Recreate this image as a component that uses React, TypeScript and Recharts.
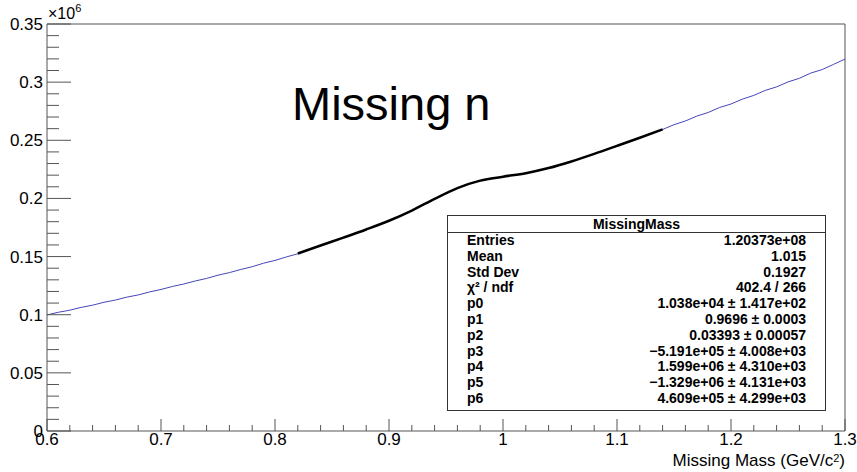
import { LineChart, Line, XAxis, YAxis, ReferenceLine } from "recharts";

// missing mass bins (GeV/c^2) and counts (x10^6)
const histMass = [
  0.6, 0.61, 0.62, 0.63, 0.64, 0.65, 0.66, 0.67, 0.68, 0.69, 0.7, 0.71, 0.72,
  0.73, 0.74, 0.75, 0.76, 0.77, 0.78, 0.79, 0.8, 0.81, 0.82, 0.83, 0.84, 0.85,
  0.86, 0.87, 0.88, 0.89, 0.9, 0.91, 0.92, 0.93, 0.94, 0.95, 0.96, 0.97, 0.98,
  0.99, 1.0, 1.01, 1.02, 1.03, 1.04, 1.05, 1.06, 1.07, 1.08, 1.09, 1.1, 1.11,
  1.12, 1.13, 1.14, 1.15, 1.16, 1.17, 1.18, 1.19, 1.2, 1.21, 1.22, 1.23, 1.24,
  1.25, 1.26, 1.27, 1.28, 1.29, 1.3,
];
const histCounts = [
  0.0998, 0.1021, 0.1039, 0.1063, 0.1082, 0.1107, 0.1126, 0.1151, 0.117,
  0.1196, 0.1217, 0.1243, 0.1264, 0.129, 0.1312, 0.134, 0.1362, 0.1389, 0.1413,
  0.1443, 0.1467, 0.1497, 0.1524, 0.1562, 0.1594, 0.163, 0.1662, 0.1699,
  0.1731, 0.1771, 0.1807, 0.1853, 0.1895, 0.1947, 0.1994, 0.2047, 0.2088,
  0.2128, 0.2151, 0.2174, 0.2185, 0.2201, 0.2215, 0.2238, 0.226, 0.2291,
  0.2317, 0.2352, 0.2382, 0.2419, 0.245, 0.2488, 0.2521, 0.256, 0.2593, 0.2634,
  0.2666, 0.2708, 0.2739, 0.2782, 0.2812, 0.2854, 0.2886, 0.2929, 0.2959,
  0.3002, 0.3033, 0.3078, 0.3108, 0.3153, 0.3198,
];

// fit curve over the fit range
const fitMass = [
  0.82, 0.84, 0.86, 0.88, 0.9, 0.92, 0.94, 0.96, 0.98, 1.0, 1.02, 1.04, 1.06,
  1.08, 1.1, 1.12, 1.14,
];
const fitValues = [
  0.1526, 0.1595, 0.1663, 0.1733, 0.1808, 0.1896, 0.1996, 0.2089, 0.2153,
  0.2187, 0.2217, 0.2261, 0.2318, 0.2383, 0.2452, 0.2522, 0.2594,
];

const xLabels = [0.6, 0.7, 0.8, 0.9, 1, 1.1, 1.2, 1.3];
const yLabels = [0, 0.05, 0.1, 0.15, 0.2, 0.25, 0.3, 0.35];

const statsRows = [
  ["Entries", "1.20373e+08"],
  ["Mean", "1.015"],
  ["Std Dev", "0.1927"],
  ["χ² / ndf", "402.4 / 266"],
  ["p0", "1.038e+04 ± 1.417e+02"],
  ["p1", "0.9696 ± 0.0003"],
  ["p2", "0.03393 ± 0.00057"],
  ["p3", "−5.191e+05 ± 4.008e+03"],
  ["p4", "1.599e+06 ± 4.310e+03"],
  ["p5", "−1.329e+06 ± 4.131e+03"],
  ["p6", "4.609e+05 ± 4.299e+03"],
];

const histData = histMass.map((m, i) => ({ x: m, y: histCounts[i] }));
const fitData = fitMass.map((m, i) => ({ x: m, y: fitValues[i] }));

// minor tick positions
const xTicks: number[] = [];
for (let i = 0; i <= 35; i++) xTicks.push(Math.round((0.6 + i * 0.02) * 100) / 100);
const yTicks: number[] = [];
for (let i = 0; i <= 35; i++) yTicks.push(Math.round(i * 0.01 * 100) / 100);

const FONT = "'Liberation Sans', Arial, Helvetica, sans-serif";
const AXIS = "#555";
const LEFT = 47;
const BOTTOM = 431;

const isMajor = (v: number, labels: number[]) =>
  labels.some((l) => Math.abs(l - v) < 1e-6);

const XTick = ({ x, payload }: any) => {
  const major = isMajor(payload.value, xLabels);
  return (
    <g>
      <line x1={x} x2={x} y1={BOTTOM} y2={BOTTOM - (major ? 12 : 6)} stroke={AXIS} />
      {major && (
        <text x={x} y={BOTTOM + 14} textAnchor="middle" fontSize={17} fontFamily={FONT} fill="#000">
          {String(payload.value)}
        </text>
      )}
    </g>
  );
};

const YTick = ({ y, payload }: any) => {
  const major = isMajor(payload.value, yLabels);
  return (
    <g>
      <line x1={LEFT} x2={LEFT + (major ? 24 : 12)} y1={y} y2={y} stroke={AXIS} />
      {major && (
        <text x={LEFT - 4} y={y + 6} textAnchor="end" fontSize={17} fontFamily={FONT} fill="#000">
          {String(payload.value)}
        </text>
      )}
    </g>
  );
};

export default function App() {
  return (
    <div
      style={{
        position: "absolute",
        left: 0,
        top: 0,
        width: 857,
        height: 472,
        background: "#fff",
        fontFamily: FONT,
      }}
    >
      <LineChart
        width={857}
        height={472}
        margin={{ top: 24, right: 12, bottom: 0, left: 0 }}
      >
        <XAxis
          dataKey="x"
          type="number"
          domain={[0.6, 1.3]}
          ticks={xTicks}
          interval={0}
          tick={XTick}
          tickLine={false}
          axisLine={{ stroke: AXIS }}
          height={41}
          allowDataOverflow
        />
        <YAxis
          type="number"
          domain={[0, 0.35]}
          ticks={yTicks}
          interval={0}
          tick={YTick}
          tickLine={false}
          axisLine={{ stroke: AXIS }}
          width={47}
          allowDataOverflow
        />
        <ReferenceLine y={0.35} stroke={AXIS} ifOverflow="visible" />
        <ReferenceLine x={1.3} stroke={AXIS} ifOverflow="visible" />
        <Line
          data={histData}
          dataKey="y"
          type="linear"
          stroke="#4646b8"
          strokeWidth={1}
          dot={false}
          isAnimationActive={false}
        />
        <Line
          data={fitData}
          dataKey="y"
          type="monotone"
          stroke="#000"
          strokeWidth={2.5}
          dot={false}
          isAnimationActive={false}
        />
      </LineChart>

      <div style={{ position: "absolute", left: 48, top: 5, fontSize: 16 }}>
        ×10<sup style={{ fontSize: 11, verticalAlign: "top", position: "relative", top: -3 }}>6</sup>
      </div>

      <div
        style={{
          position: "absolute",
          left: 292,
          top: 78,
          fontSize: 47,
          lineHeight: "52px",
          whiteSpace: "nowrap",
        }}
      >
        Missing n
      </div>

      <div
        style={{
          position: "absolute",
          right: 12,
          top: 451,
          fontSize: 17,
          lineHeight: "20px",
          whiteSpace: "nowrap",
        }}
      >
        Missing Mass (GeV/c<sup style={{ fontSize: 11, verticalAlign: "top", position: "relative", top: -3 }}>2</sup>)
      </div>

      <div
        style={{
          position: "absolute",
          left: 447,
          top: 215,
          width: 377,
          height: 194,
          border: "1px solid #333",
          background: "#fff",
          fontSize: 14,
          fontWeight: "bold",
        }}
      >
        <div
          style={{
            height: 16,
            lineHeight: "16px",
            textAlign: "center",
            borderBottom: "1px solid #333",
          }}
        >
          MissingMass
        </div>
        {statsRows.map(([k, v]) => (
          <div
            key={k}
            style={{
              display: "flex",
              justifyContent: "space-between",
              height: 15.8,
              lineHeight: "15.8px",
              paddingLeft: 19,
              paddingRight: 19,
            }}
          >
            <span>{k}</span>
            <span>{v}</span>
          </div>
        ))}
      </div>
    </div>
  );
}
